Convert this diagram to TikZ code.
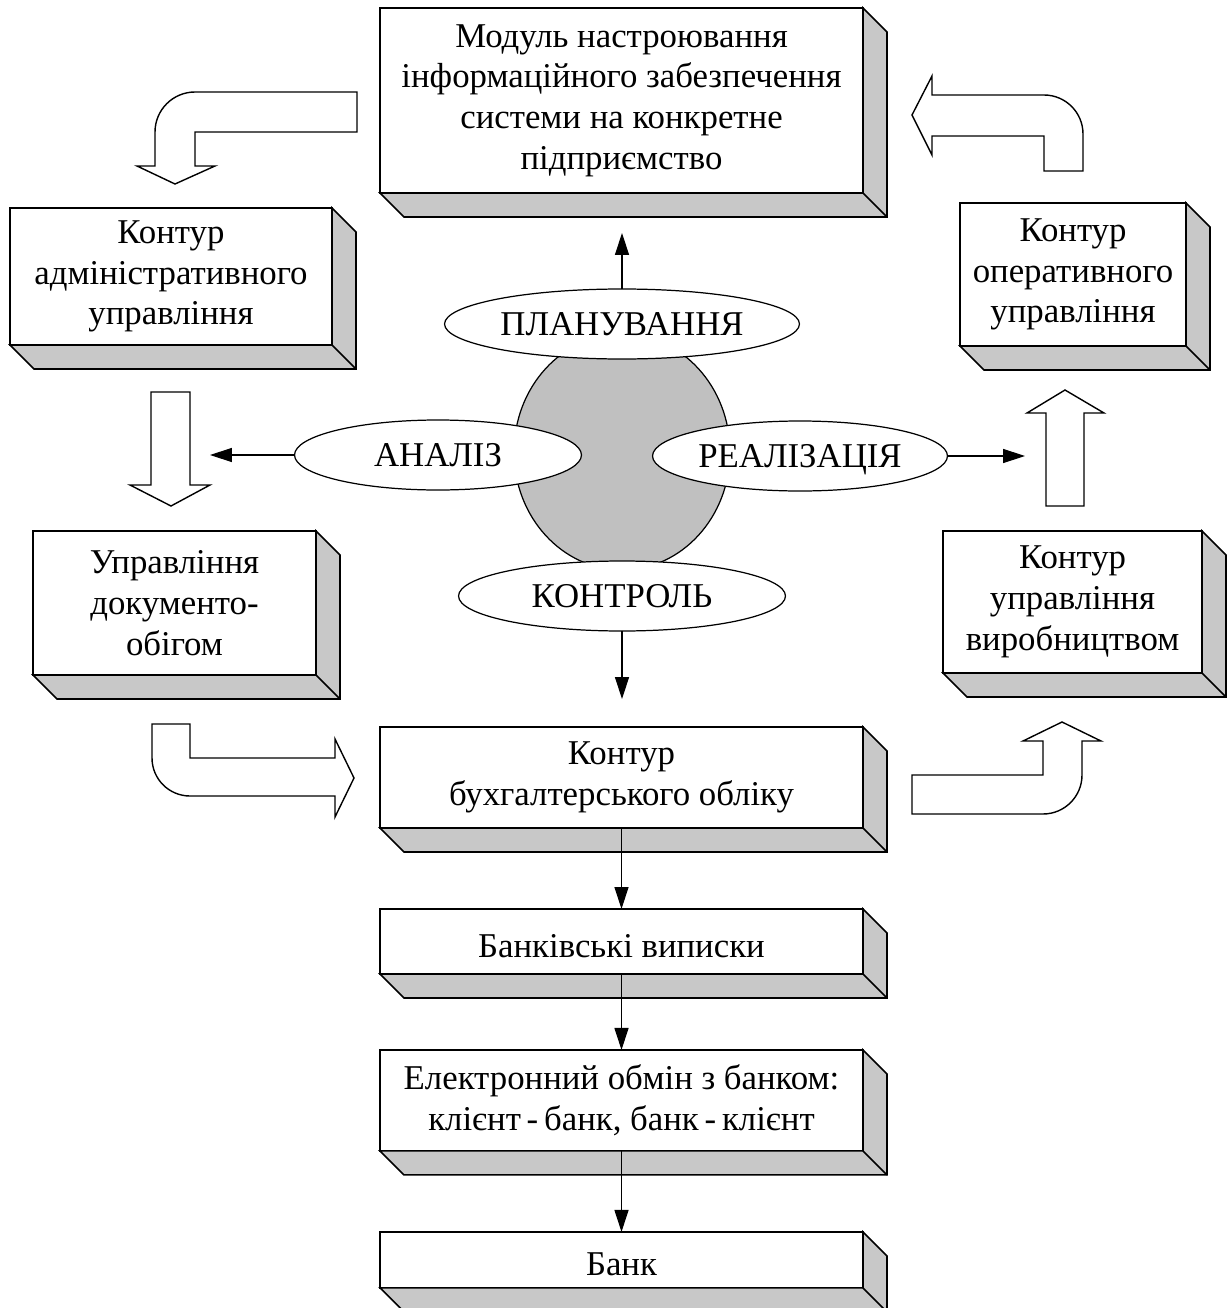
\documentclass[tikz,border=0pt]{standalone}
\usepackage{fontspec}
\setmainfont{Liberation Serif}
\usepackage{tikz}
\usetikzlibrary{calc}
\usetikzlibrary{positioning}
\usetikzlibrary{shapes.geometric}
\usetikzlibrary{arrows.meta}

\definecolor{bevelgray}{RGB}{200,200,200}
\definecolor{hubgray}{RGB}{192,192,192}

\begin{document}
\begin{tikzpicture}[x=0.02cm, y=-0.02cm,
    every node/.style={font=\fontsize{19.8}{23.2}\selectfont},
    box/.style={draw, line width=0.9pt, fill=white, rectangle, align=center, inner sep=0pt, outer sep=0pt,
        execute at begin node={\rule{0pt}{18pt}}},
    oval/.style={draw, line width=0.7pt, fill=white, ellipse, inner sep=0pt, outer sep=0pt, minimum height=1.4cm,
        text height=13.2pt, text depth=0pt},
    thinarrow/.style={line width=0.6pt, -{Triangle[length=12.5pt, width=8pt]}},
    hollow/.style={draw, line width=0.8pt, fill=white, line join=miter}]

    % Define the depth of the box sides
    \def\bev{24}

    \useasboundingbox (0,0) rectangle (1227,1308);

    % Draw the boxes
    \node[box, minimum width=9.66cm, minimum height=3.7cm] (modul) at (621.5,100.5)
        {Модуль настроювання\\ інформаційного забезпечення\\ системи на конкретне\\ підприємство};
    \node[box, minimum width=6.44cm, minimum height=2.74cm] (admin) at (171,276.5)
        {Контур\\ адміністративного\\ управління};
    \node[box, minimum width=4.52cm, minimum height=2.86cm] (oper) at (1073,274.5)
        {Контур\\ оперативного\\ управління};
    \node[box, minimum width=5.66cm, minimum height=2.88cm] (doc) at (174.5,603)
        {Управління\\ документо-\\ обігом};
    \node[box, minimum width=5.18cm, minimum height=2.84cm] (prod) at (1072.5,602)
        {Контур\\ управління\\ виробництвом};
    \node[box, minimum width=9.66cm, minimum height=2.02cm] (acct) at (621.5,777.5)
        {Контур\\ бухгалтерського обліку};
    \node[box, minimum width=9.66cm, minimum height=1.3cm, below=1.62cm of acct] (stmt)
        {Банківські виписки};
    \node[box, minimum width=9.66cm, minimum height=2.02cm, below=1.52cm of stmt] (exch)
        {Електронний обмін з банком:\\ клієнт\,-\,банк, банк\,-\,клієнт};
    \node[box, minimum width=9.66cm, minimum height=1.12cm, below=1.62cm of exch] (bank)
        {Банк};

    % Draw the box sides
    \foreach \n in {modul,admin,oper,doc,prod,acct,stmt,exch,bank} {
        \draw[line width=0.9pt, fill=bevelgray, line join=miter] (\n.south west) -- ($(\n.south west)+(\bev,\bev)$)
            -- ($(\n.south east)+(\bev,\bev)$) -- ($(\n.north east)+(\bev,\bev)$) -- (\n.north east) -- (\n.south east) -- cycle;
        \draw[line width=0.9pt] (\n.south east) -- ++(\bev,\bev);
    }

    % Draw the hub and the four ovals
    \node[ellipse, draw, line width=0.7pt, fill=hubgray, minimum width=4.32cm, minimum height=4.72cm, inner sep=0pt] (hub) at (622,452) {};
    \node[oval, minimum width=7.1cm] (plan) at (622,324) {ПЛАНУВАННЯ};
    \node[oval, minimum width=5.74cm] (anal) at (438,455) {АНАЛІЗ};
    \node[oval, minimum width=5.9cm] (real) at (800,456) {РЕАЛІЗАЦІЯ};
    \node[oval, minimum width=6.54cm] (kontr) at (622,596) {КОНТРОЛЬ};

    % Free ends of the thin arrows
    \coordinate (planTip) at (622,233);
    \coordinate (analTip) at (210,455);
    \coordinate (realTip) at (1025,456);
    \coordinate (kontrTip) at (622,699);

    % Draw thin arrows
    \draw[thinarrow] (plan.north) -- (planTip);
    \draw[thinarrow] (anal.west) -- (analTip);
    \draw[thinarrow] (real.east) -- (realTip);
    \draw[thinarrow] (kontr.south) -- (kontrTip);
    \draw[thinarrow] (acct.south) -- (stmt.north);
    \draw[thinarrow] (stmt.south) -- (exch.north);
    \draw[thinarrow] (exch.south) -- (bank.north);

    % Draw hollow arrows
    \draw[hollow] (357,92) -- (195,92) arc[start angle=90, end angle=180, radius=0.8cm]
        -- (155,166) -- (137,166) -- (175,184) -- (215,166) -- (195,166) -- (195,132) -- (357,132) -- cycle;
    \draw[hollow] (912,115) -- (932,76) -- (932,95) -- (1044,95) arc[start angle=90, end angle=0, radius=0.78cm]
        -- (1083,171) -- (1044,171) -- (1044,136) -- (932,136) -- (932,155) -- cycle;
    \draw[hollow] (151,392) -- (190,392) -- (190,485) -- (210,485) -- (171,506) -- (130,485) -- (151,485) -- cycle;
    \draw[hollow] (152,724) -- (190,724) -- (190,758) -- (335,758) -- (335,739) -- (354,778) -- (335,817)
        -- (335,796) -- (190,796) arc[start angle=270, end angle=180, radius=0.76cm] -- cycle;
    \draw[hollow] (912,775) -- (1043,775) -- (1043,741) -- (1023,741) -- (1062,722) -- (1101,741) -- (1082,741)
        -- (1082,775) arc[start angle=0, end angle=-90, radius=0.78cm] -- (912,814) -- cycle;
    \draw[hollow] (1046,506) -- (1084,506) -- (1084,413) -- (1104,413) -- (1065,390) -- (1027,413) -- (1046,413) -- cycle;

\end{tikzpicture}
\end{document}
